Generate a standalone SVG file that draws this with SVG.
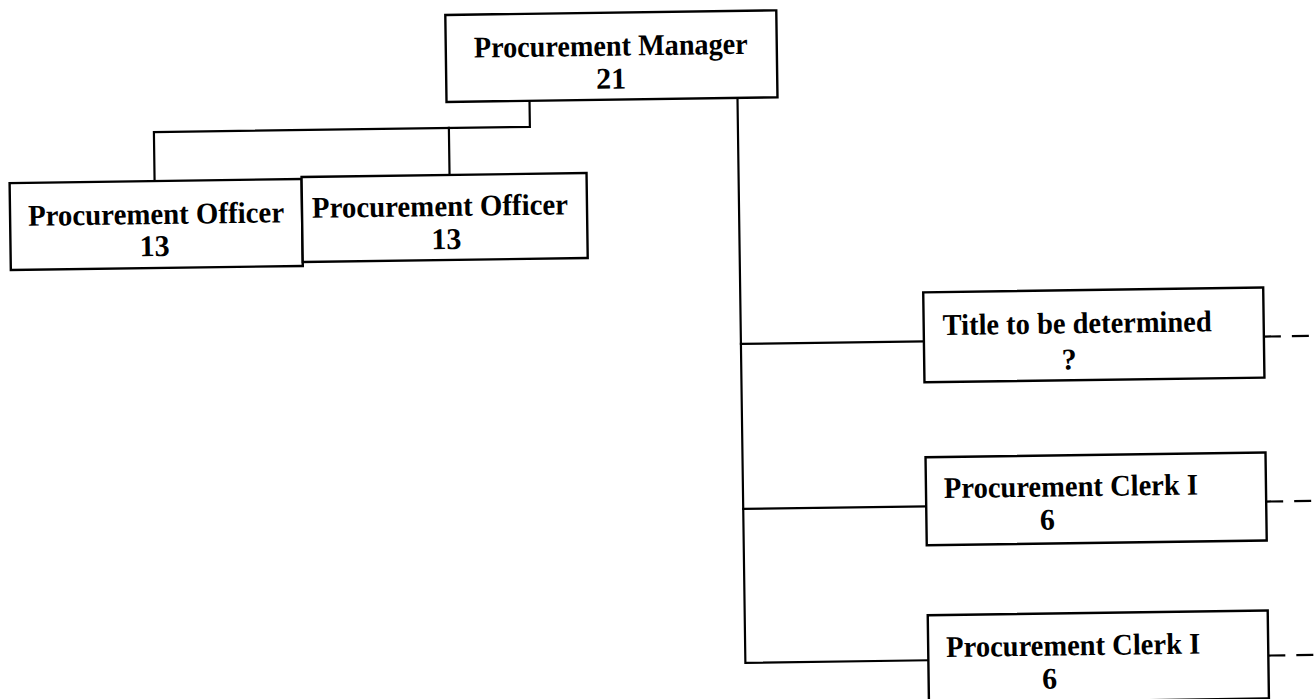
<svg xmlns="http://www.w3.org/2000/svg" width="1315" height="699" viewBox="0 0 1315 699">
  <style>
    .box { fill: #ffffff; stroke: #000000; stroke-width: 2.4; }
    .link { fill: none; stroke: #000000; stroke-width: 2.2; stroke-linecap: square; }
    .dash { fill: none; stroke: #000000; stroke-width: 2.2; stroke-dasharray: 17 11; }
    .label { font-family: "Liberation Serif", "Times New Roman", serif; font-weight: bold; font-size: 30px; fill: #000000; }
    .mid { text-anchor: middle; }
  </style>
  <rect x="0" y="0" width="1315" height="699" fill="#ffffff"/>
  <!-- the whole chart sits slightly tilted on the page -->
  <g transform="rotate(-0.8 660 350)">
    <g id="connectors">
      <!-- manager to the two officers -->
      <polyline class="link" points="533,99 533,125 157,125 157,174"/>
      <line class="link" x1="452" y1="125" x2="452" y2="172"/>
      <!-- manager trunk to the three staff boxes -->
      <polyline class="link" points="741,99 741,664 924,664"/>
      <line class="link" x1="741" y1="345" x2="924" y2="345"/>
      <line class="link" x1="741" y1="510" x2="924" y2="510"/>
      <!-- dotted-line reporting off to the right -->
      <line class="dash" x1="1264" y1="345" x2="1330" y2="345"/>
      <line class="dash" x1="1264" y1="510" x2="1330" y2="510"/>
      <line class="dash" x1="1264" y1="664" x2="1330" y2="664"/>
    </g>

    <g id="procurement-manager">
      <rect class="box" x="450" y="12" width="331" height="87"/>
      <text class="label mid" x="615" y="55" textLength="274" lengthAdjust="spacingAndGlyphs">Procurement Manager</text>
      <text class="label mid" x="615" y="88">21</text>
    </g>

    <g id="procurement-officer-1">
      <rect class="box" x="12" y="174" width="292" height="87"/>
      <text class="label mid" x="158" y="217" textLength="256" lengthAdjust="spacingAndGlyphs">Procurement Officer</text>
      <text class="label mid" x="156" y="249">13</text>
    </g>

    <g id="procurement-officer-2">
      <rect class="box" x="304" y="172" width="285" height="85"/>
      <text class="label mid" x="442" y="213" textLength="256" lengthAdjust="spacingAndGlyphs">Procurement Officer</text>
      <text class="label mid" x="448" y="246">13</text>
    </g>

    <g id="title-to-be-determined">
      <rect class="box" x="924" y="296" width="340" height="90"/>
      <text class="label" x="943" y="339" textLength="269" lengthAdjust="spacingAndGlyphs">Title to be determined</text>
      <text class="label mid" x="1069" y="375">?</text>
    </g>

    <g id="procurement-clerk-1">
      <rect class="box" x="924" y="461" width="340" height="88"/>
      <text class="label" x="942" y="502" textLength="254" lengthAdjust="spacingAndGlyphs">Procurement Clerk I</text>
      <text class="label mid" x="1045" y="535">6</text>
    </g>

    <g id="procurement-clerk-2">
      <rect class="box" x="924" y="619" width="340" height="88"/>
      <text class="label" x="942" y="661" textLength="254" lengthAdjust="spacingAndGlyphs">Procurement Clerk I</text>
      <text class="label mid" x="1045" y="694">6</text>
    </g>
  </g>
</svg>
